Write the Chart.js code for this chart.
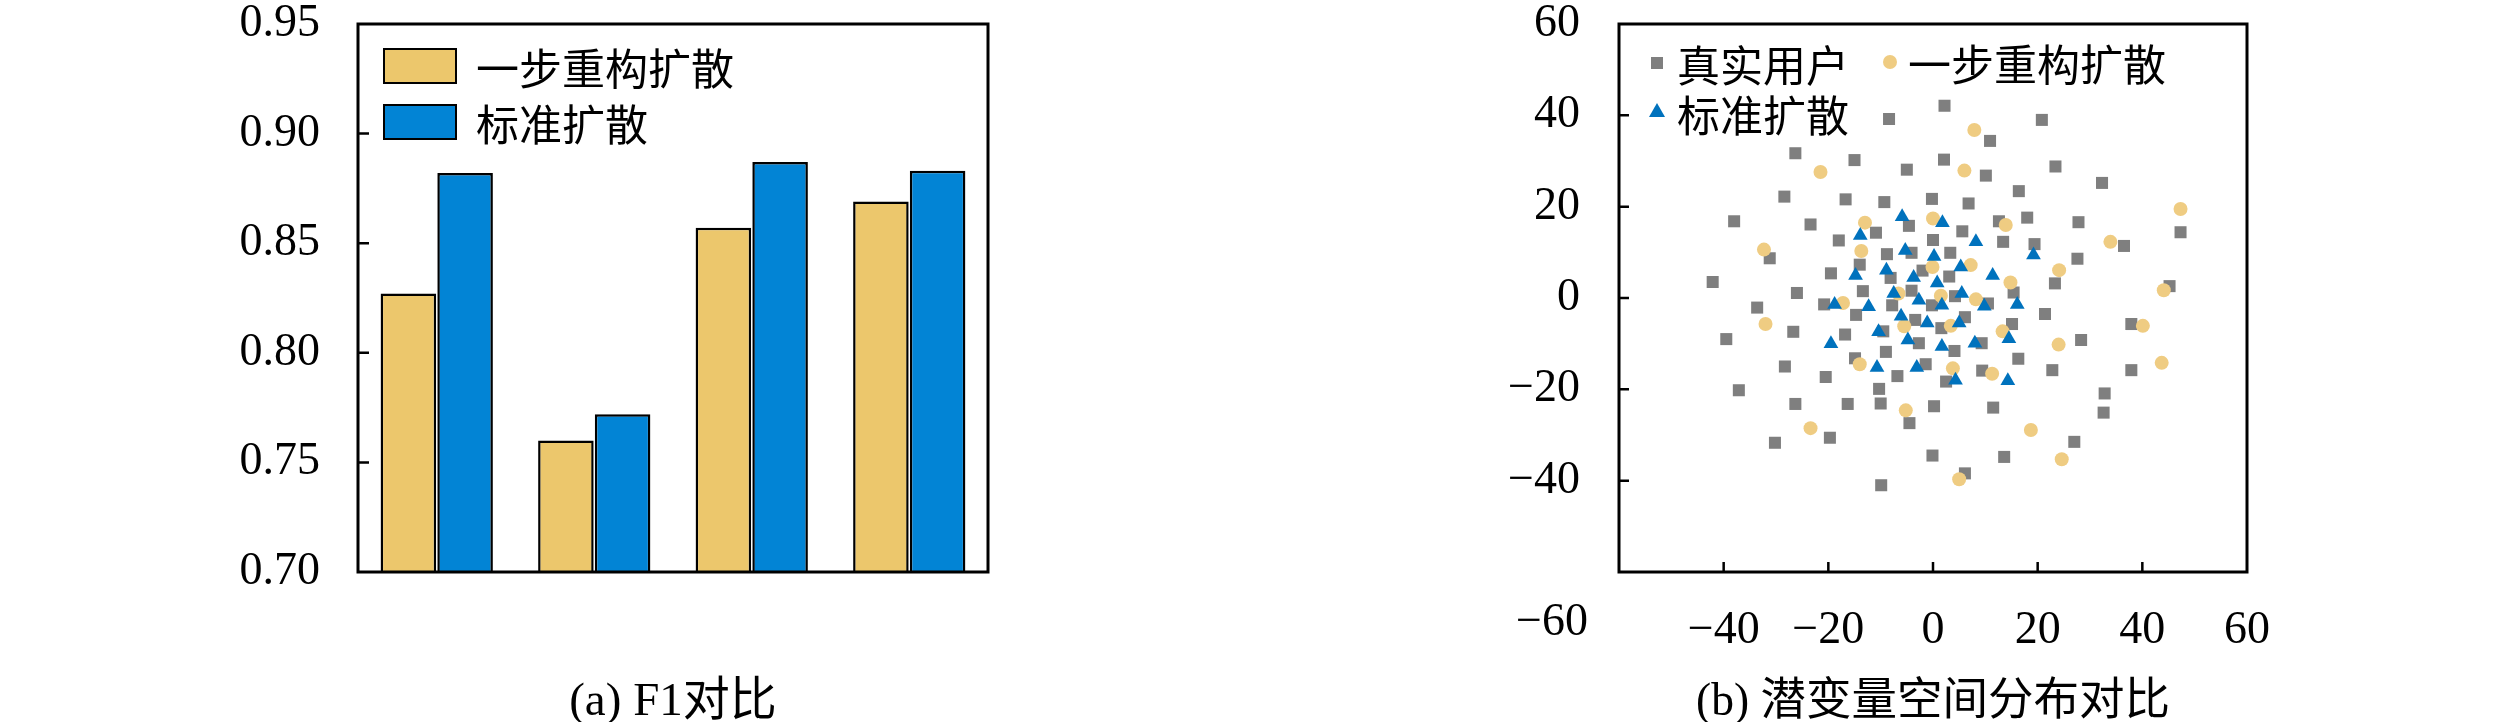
<!DOCTYPE html>
<html lang="zh-CN">
<head>
<meta charset="utf-8">
<title>F1对比 / 潜变量空间分布对比</title>
<script src="https://cdn.jsdelivr.net/npm/chart.js@4.4.1/dist/chart.umd.min.js"></script>
<style>
  html, body { margin: 0; padding: 0; background: #fff; }
  body {
    width: 2520px; height: 722px; position: relative; overflow: hidden;
    font-family: "Liberation Serif", "Noto Sans CJK SC", serif; color: #000;
  }
  .panel { position: absolute; top: 0; height: 722px; }
  #panelA { left: 0; width: 1060px; }
  #panelB { left: 1300px; width: 1040px; }
  .abs { position: absolute; }
  .lg-text { font-family: "Noto Sans CJK SC", sans-serif; font-size: 43px; line-height: 44px; white-space: nowrap; }
  .lg-box { border: 2.5px solid #000; box-sizing: border-box; width: 74px; height: 36px; }
  .caption { font-size: 47px; line-height: 48px; white-space: nowrap; transform: translateX(-50%); }
</style>
</head>
<body>
<div class="panel" id="panelA"><canvas id="f1Chart"></canvas></div>
<div class="panel" id="panelB"><canvas id="latentChart"></canvas></div>

<!-- legend (a) -->
<div class="abs lg-box" id="lgBoxA1" style="left:383px; top:48px;"></div>
<div class="abs lg-text" style="left:476px; top:44px;">一步重构扩散</div>
<div class="abs lg-box" id="lgBoxA2" style="left:383px; top:104px;"></div>
<div class="abs lg-text" style="left:476px; top:100px;">标准扩散</div>

<!-- legend (b) -->
<div class="abs" id="lgSquare" style="left:1651px; top:57px; width:12px; height:12px;"></div>
<div class="abs lg-text" style="left:1677px; top:41px;">真实用户</div>
<div class="abs" id="lgCircle" style="left:1883px; top:55px; width:14px; height:14px; border-radius:50%;"></div>
<div class="abs lg-text" style="left:1908px; top:40px;">一步重构扩散</div>
<svg class="abs" style="left:1649px; top:103px;" width="16" height="14">
  <polygon id="lgTriangle" points="8,0 16,14 0,14"></polygon>
</svg>
<div class="abs lg-text" style="left:1677px; top:91px;">标准扩散</div>

<div class="abs caption" style="left:673px; top:675px;">(a) F1对比</div>
<div class="abs caption" style="left:1933px; top:676px; font-size:45.5px;">(b) 潜变量空间分布对比</div>

<script>
// ---- data: (a) F1 ----
const groups = ["1", "2", "3", "4"];
const oneStepF1 = [0.827, 0.760, 0.857, 0.869];
const standardF1 = [0.882, 0.772, 0.887, 0.883];
const f1Range = [0.70, 0.95];
const f1Step = 0.05;

// ---- data: (b) latent space, [x, y] ----
const realUsers = [
  [2.2, 42.1], [-8.4, 39.2], [20.8, 39.0], [10.9, 34.4], [-26.3, 31.7], [-15.0, 30.2],
  [2.1, 30.3], [-5.0, 28.1], [10.1, 26.8], [23.4, 28.8], [32.3, 25.2], [16.4, 23.4],
  [-28.4, 22.2], [-16.7, 21.6], [-9.3, 21.0], [-0.2, 21.7], [6.8, 20.7], [-38.0, 16.8],
  [-23.4, 16.1], [-4.6, 15.8], [12.6, 16.8], [18.0, 17.6], [27.8, 16.6], [47.3, 14.4],
  [-10.9, 14.3], [-18.0, 12.6], [0.0, 12.7], [5.6, 14.6], [13.4, 12.3], [19.4, 11.8],
  [36.5, 11.4], [-31.2, 8.7], [-8.8, 9.6], [-4.1, 9.9], [3.3, 9.9], [27.6, 8.6],
  [-14.0, 7.3], [-19.5, 5.4], [-2.0, 6.0], [-8.1, 4.4], [3.1, 4.7], [-42.1, 3.5],
  [23.3, 3.2], [45.2, 2.6], [-26.0, 1.1], [-13.4, 1.5], [-4.1, 1.6], [4.2, 0.4],
  [15.4, 1.2], [-33.6, -2.1], [-20.8, -1.4], [-7.8, -1.6], [-0.2, -1.6], [10.5, -1.2],
  [21.4, -3.5], [-14.7, -3.7], [-3.4, -4.8], [6.1, -4.2], [15.1, -5.7], [37.9, -5.7],
  [-26.7, -7.4], [-16.8, -8.0], [-9.5, -7.3], [1.6, -6.6], [-39.5, -9.0], [-2.7, -9.9],
  [9.3, -9.9], [28.3, -9.2], [-9.0, -11.8], [4.1, -11.6], [-14.9, -13.2], [16.3, -13.3],
  [-28.3, -15.0], [-1.4, -14.5], [9.4, -15.9], [22.8, -15.8], [37.9, -15.8], [-20.5, -17.3],
  [-6.8, -17.1], [2.5, -18.3], [-37.1, -20.2], [-10.3, -19.9], [32.8, -20.9], [-26.3, -23.2],
  [-16.3, -23.2], [-10.0, -23.1], [0.2, -23.7], [11.5, -24.0], [32.6, -25.1], [-4.5, -27.4],
  [-19.7, -30.6], [-30.2, -31.7], [27.0, -31.5], [-0.1, -34.5], [13.6, -34.8], [6.1, -38.4],
  [-9.9, -41.0]
];
const oneStepLatent = [
  [7.9, 36.8], [-21.5, 27.6], [6.0, 27.9], [47.3, 19.5], [0.0, 17.4], [-13.0, 16.5],
  [13.9, 16.0], [33.9, 12.3], [-32.3, 10.6], [-13.7, 10.3], [-0.1, 6.8], [7.2, 7.2],
  [24.1, 6.1], [14.8, 3.4], [44.1, 1.7], [-6.6, 1.0], [1.5, 0.5], [8.2, -0.3],
  [-17.2, -1.1], [-32.0, -5.7], [-5.5, -6.2], [3.4, -6.1], [13.3, -7.3], [40.1, -6.1],
  [24.0, -10.2], [-14.0, -14.5], [3.8, -15.4], [11.3, -16.6], [43.7, -14.2], [-5.2, -24.6],
  [-23.4, -28.5], [18.7, -28.9], [24.6, -35.3], [5.0, -39.7]
];
const standardLatent = [
  [-5.9, 17.8], [1.8, 16.5], [-13.9, 13.7], [8.2, 12.3], [-5.3, 10.4], [0.2, 9.1],
  [19.2, 9.4], [-8.9, 6.1], [5.3, 6.8], [-14.8, 4.9], [-3.7, 4.5], [11.4, 4.9],
  [0.8, 3.3], [-7.5, 1.0], [5.5, 1.0], [-18.8, -1.4], [-12.3, -1.9], [-2.7, -0.5],
  [1.7, -1.6], [9.8, -1.8], [16.1, -1.4], [-6.1, -4.0], [-1.1, -5.5], [5.0, -5.5],
  [-10.4, -7.4], [-19.5, -10.0], [-4.8, -9.2], [1.7, -10.6], [8.0, -9.9], [14.5, -8.9],
  [-10.7, -15.2], [-3.1, -15.2], [4.3, -18.0], [14.3, -18.1]
];
const latentRange = [-60, 60];
const latentStep = 20;

const colors = {
  barYellow: "#ECC76C",
  barBlue: "#0284D5",
  gray: "#7F7F7F",
  dotYellow: "#EFCC82",
  triBlue: "#0072BD"
};

document.getElementById("lgBoxA1").style.background = colors.barYellow;
document.getElementById("lgBoxA2").style.background = colors.barBlue;
document.getElementById("lgSquare").style.background = colors.gray;
document.getElementById("lgCircle").style.background = colors.dotYellow;
document.getElementById("lgTriangle").setAttribute("fill", colors.triBlue);

const TICK_FONT = 46;
Chart.defaults.font.family = '"Liberation Serif", serif';
Chart.defaults.font.size = TICK_FONT;
Chart.defaults.color = "#000";
Chart.defaults.animation = false;
Chart.defaults.plugins.legend.display = false;
Chart.defaults.plugins.tooltip.enabled = false;

const minus = (v) => (v < 0 ? "\u2212" + Math.abs(v) : String(v));

// frame + inward tick marks (+ optional stray corner label)
const axisFrame = {
  id: "axisFrame",
  afterDatasetsDraw(chart, args, opts) {
    const { ctx, chartArea: area } = chart;
    ctx.save();
    ctx.strokeStyle = "#000";
    ctx.lineWidth = opts.tickWidth;
    ctx.beginPath();
    (opts.axes || []).forEach((id) => {
      const scale = chart.scales[id];
      scale.ticks.forEach(({ value }) => {
        const p = scale.getPixelForValue(value);
        if (scale.isHorizontal()) {
          if (p <= area.left + 2 || p >= area.right - 2) return;
          ctx.moveTo(p, area.bottom);
          ctx.lineTo(p, area.bottom - opts.tickLength);
        } else {
          if (p <= area.top + 2 || p >= area.bottom - 2) return;
          ctx.moveTo(area.left, p);
          ctx.lineTo(area.left + opts.tickLength, p);
        }
      });
    });
    ctx.stroke();
    ctx.lineWidth = opts.frameWidth;
    ctx.strokeRect(area.left, area.top, area.right - area.left, area.bottom - area.top);

    if (opts.cornerLabel) {
      const ys = chart.scales.y;
      const xs = chart.scales.x;
      ctx.font = `${TICK_FONT}px "Liberation Serif", serif`;
      ctx.fillStyle = "#000";
      ctx.textAlign = "right";
      ctx.textBaseline = "middle";
      ctx.fillText(
        opts.cornerLabel,
        ys.right - ys.options.ticks.padding,
        xs.top + xs.options.ticks.padding + TICK_FONT * 0.6
      );
    }
    ctx.restore();
  }
};

function fixWidth(w) {
  return (scale) => {
    scale.width = w;
    scale.paddingTop = 0;
    scale.paddingBottom = 0;
  };
}
function fixHeight(h) {
  return (scale) => {
    scale.height = h;
    scale.paddingLeft = 0;
    scale.paddingRight = 0;
  };
}

function createF1Chart(ctx) {
  return new Chart(ctx, {
    type: "bar",
    data: {
      labels: groups,
      datasets: [
        {
          label: "一步重构扩散",
          data: oneStepF1,
          backgroundColor: colors.barYellow,
          borderColor: "#000",
          borderWidth: 2.5,
          borderSkipped: false
        },
        {
          label: "标准扩散",
          data: standardF1,
          backgroundColor: colors.barBlue,
          borderColor: "#000",
          borderWidth: 2.5,
          borderSkipped: false
        }
      ]
    },
    options: {
      responsive: true,
      maintainAspectRatio: false,
      layout: { autoPadding: false, padding: { left: 0, top: 24, right: 72, bottom: 150 } },
      datasets: { bar: { categoryPercentage: 0.72, barPercentage: 0.98 } },
      scales: {
        x: { display: false },
        y: {
          min: f1Range[0],
          max: f1Range[1],
          grid: { display: false },
          border: { display: false },
          ticks: {
            stepSize: f1Step,
            padding: 30,
            callback: (value) => Number(value).toFixed(2)
          },
          afterFit: fixWidth(358)
        }
      },
      plugins: {
        axisFrame: { axes: ["y"], tickLength: 11, tickWidth: 2.5, frameWidth: 3 }
      }
    },
    plugins: [axisFrame]
  });
}

function createLatentChart(ctx) {
  const toPoints = (list) => list.map(([x, y]) => ({ x, y }));
  return new Chart(ctx, {
    type: "scatter",
    data: {
      datasets: [
        {
          label: "标准扩散",
          data: toPoints(standardLatent),
          pointStyle: "triangle",
          pointRadius: 8.5,
          pointBorderWidth: 0,
          backgroundColor: colors.triBlue,
          order: 1
        },
        {
          label: "一步重构扩散",
          data: toPoints(oneStepLatent),
          pointStyle: "circle",
          pointRadius: 7,
          pointBorderWidth: 0,
          backgroundColor: colors.dotYellow,
          order: 2
        },
        {
          label: "真实用户",
          data: toPoints(realUsers),
          pointStyle: "rect",
          pointRadius: 8.5,
          pointBorderWidth: 0,
          backgroundColor: colors.gray,
          order: 3
        }
      ]
    },
    options: {
      responsive: true,
      maintainAspectRatio: false,
      layout: { autoPadding: false, padding: { left: 0, top: 24, right: 93, bottom: 60 } },
      scales: {
        x: {
          type: "linear",
          min: latentRange[0],
          max: latentRange[1],
          grid: { display: false },
          border: { display: false },
          ticks: {
            stepSize: latentStep,
            padding: 23,
            maxRotation: 0,
            callback: (value) => (value === latentRange[0] ? "" : minus(value))
          },
          afterFit: fixHeight(90)
        },
        y: {
          type: "linear",
          min: latentRange[0],
          max: latentRange[1],
          grid: { display: false },
          border: { display: false },
          ticks: {
            stepSize: latentStep,
            padding: 31,
            callback: (value) => (value === latentRange[0] ? "" : minus(value))
          },
          afterFit: fixWidth(319)
        }
      },
      plugins: {
        axisFrame: {
          axes: ["x", "y"],
          tickLength: 10,
          tickWidth: 2.5,
          frameWidth: 3,
          cornerLabel: minus(latentRange[0])
        }
      }
    },
    plugins: [axisFrame]
  });
}

createF1Chart(document.getElementById("f1Chart").getContext("2d"));
createLatentChart(document.getElementById("latentChart").getContext("2d"));
</script>
</body>
</html>
